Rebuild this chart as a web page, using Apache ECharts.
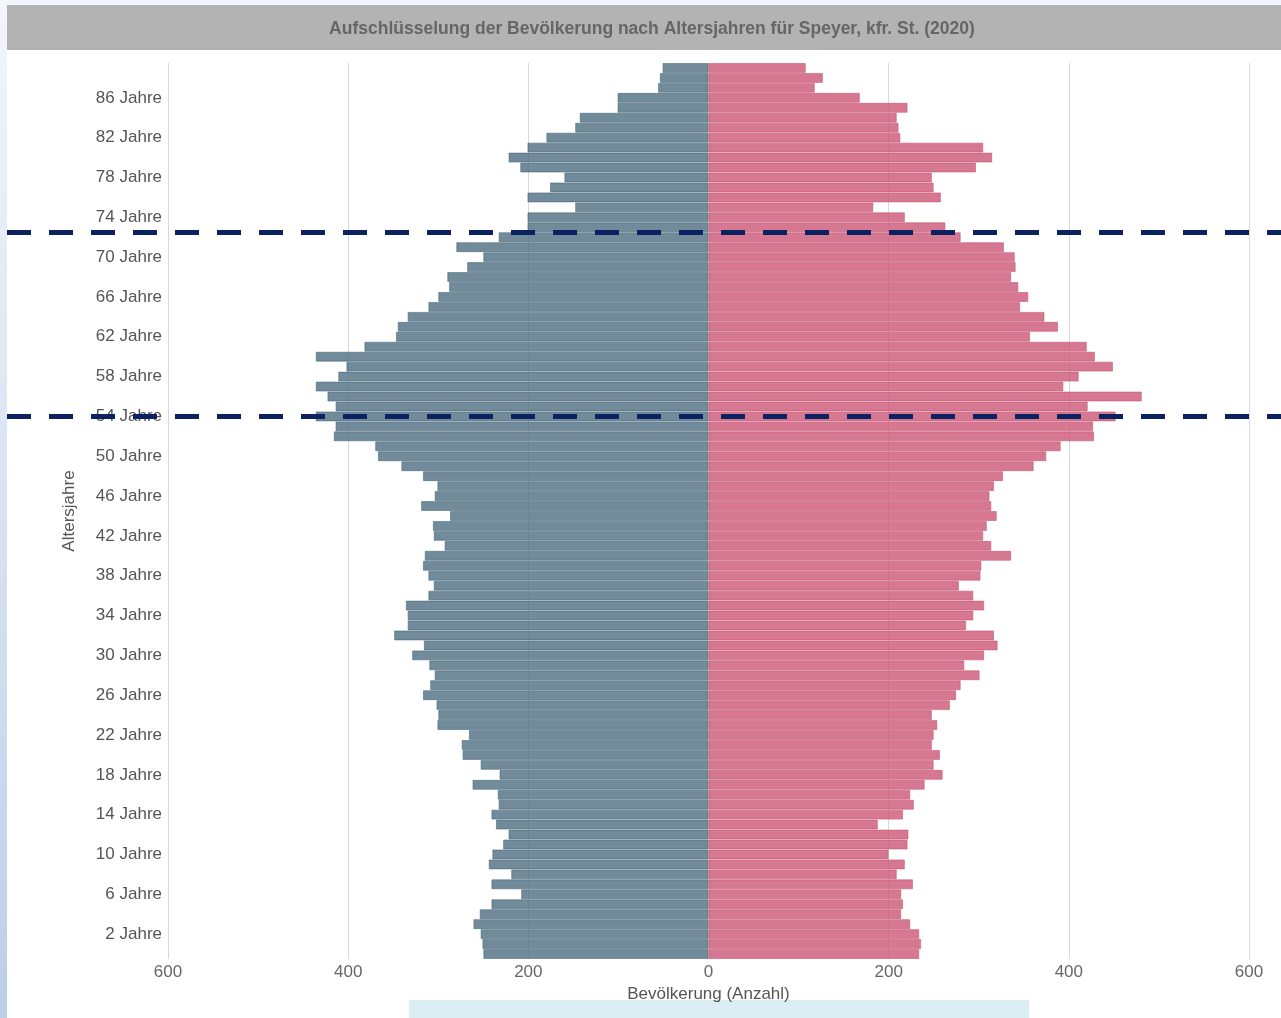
<!DOCTYPE html>
<html>
<head>
<meta charset="utf-8">
<script src="https://cdn.jsdelivr.net/npm/echarts@6/dist/echarts.min.js"></script>
<style>
  html, body { margin: 0; padding: 0; width: 1281px; height: 1018px; overflow: hidden;
    background: linear-gradient(to bottom, #f2f5fb 0%, #dbe5f2 45%, #bccfe9 100%); }
  #chart { position: absolute; left: 7px; top: 5px; width: 1274px; height: 1013px; background: #ffffff; }
</style>
</head>
<body>
<div id="chart"></div>
<script>
// Ages 0..89 (bottom to top)
const ages = Array.from({length: 90}, (_, i) => i);
const ageLabels = ages.map(a => a + ' Jahre');

// Males (left side), ages 0..89
const male = [250, 251, 253, 261, 254, 241, 208, 241, 219, 244,
              240, 228, 222, 236, 241, 233, 234, 262, 232, 253,
              273, 274, 266, 301, 300, 302, 317, 309, 304, 310,
              329, 316, 349, 334, 334, 336, 311, 305, 311, 317,
              315, 293, 305, 306, 287, 319, 304, 301, 317, 341,
              367, 370, 416, 414, 436, 414, 423, 436, 411, 402,
              436, 382, 347, 345, 334, 311, 300, 288, 290, 268,
              250, 280, 233, 201, 201, 148, 201, 176, 160, 209,
              222, 201, 180, 148, 143, 101, 101, 56, 54, 51];

// Females (right side), ages 0..89
const female = [234, 236, 234, 224, 214, 216, 214, 227, 209, 218,
                200, 221, 222, 188, 216, 228, 224, 240, 260, 250,
                257, 248, 250, 254, 248, 268, 275, 280, 301, 284,
                306, 321, 317, 286, 294, 306, 294, 278, 302, 303,
                336, 314, 305, 309, 320, 314, 312, 317, 327, 361,
                375, 391, 428, 427, 452, 421, 481, 394, 411, 449,
                429, 420, 357, 388, 373, 346, 355, 344, 336, 341,
                340, 328, 280, 263, 218, 183, 258, 250, 248, 297,
                315, 305, 213, 211, 209, 221, 168, 118, 127, 108];

// Reference lines (age positions)
const markAges = [72.5, 54];

const xTicks = [-600, -400, -200, 0, 200, 400, 600];

const FONT = '"Liberation Sans", Arial, sans-serif';

const chart = echarts.init(document.getElementById('chart'), null, {renderer: 'canvas'});

chart.setOption({
  animation: false,
  backgroundColor: '#ffffff',
  title: {
    text: 'Aufschlüsselung der Bevölkerung nach Altersjahren für Speyer, kfr. St. (2020)',
    left: 640,
    textAlign: 'center',
    top: 10,
    textStyle: { fontFamily: FONT, fontSize: 17.5, fontWeight: 'bold', color: '#666666' }
  },
  graphic: [
    { type: 'rect', left: 0, top: 0, z: -10, shape: { width: 1274, height: 45 }, style: { fill: '#b3b3b3' } },
    { type: 'rect', left: 402, top: 995, z: -10, shape: { width: 620, height: 18 }, style: { fill: '#daeef3' } }
  ],
  grid: [
    { left: 161, right: 32, top: 58, bottom: 59, containLabel: false },
    { left: 0, right: 0, top: 58, bottom: 59, containLabel: false }
  ],
  xAxis: [
    {
      type: 'value', gridIndex: 0,
      min: xTicks[0], max: xTicks[xTicks.length - 1], interval: 200,
      axisLine: { show: false }, axisTick: { show: false },
      splitLine: { show: true, lineStyle: { color: '#d8d8d8', width: 1 } },
      axisLabel: { formatter: v => String(Math.abs(v)), fontFamily: FONT, fontSize: 17, color: '#666666', margin: 5 },
      name: 'Bevölkerung (Anzahl)', nameLocation: 'middle', nameGap: 25,
      nameTextStyle: { fontFamily: FONT, fontSize: 17, color: '#555555' }
    },
    { type: 'value', gridIndex: 1, min: 0, max: 1, show: false }
  ],
  yAxis: [
    {
      type: 'category', gridIndex: 0, data: ageLabels,
      axisLine: { show: false }, axisTick: { show: false },
      splitLine: { show: false },
      axisLabel: { interval: (idx) => idx % 4 === 2, fontFamily: FONT, fontSize: 17, color: '#555555', margin: 6 },
      name: 'Altersjahre', nameLocation: 'middle', nameRotate: 90, nameGap: 90,
      nameTextStyle: { fontFamily: FONT, fontSize: 17, color: '#555555' }
    },
    { type: 'value', gridIndex: 1, min: -0.5, max: 89.5, show: false }
  ],
  series: [
    {
      name: 'Männlich', type: 'bar', stack: 'pop', xAxisIndex: 0, yAxisIndex: 0,
      barCategoryGap: '0%',
      data: male.map(v => -v),
      itemStyle: { color: 'rgba(86,117,135,0.84)', borderColor: 'rgba(70,100,118,0.55)', borderWidth: 1 }
    },
    {
      name: 'Weiblich', type: 'bar', stack: 'pop', xAxisIndex: 0, yAxisIndex: 0,
      barCategoryGap: '0%',
      data: female,
      itemStyle: { color: 'rgba(206,94,124,0.84)', borderColor: 'rgba(196,80,112,0.55)', borderWidth: 1 }
    },
    {
      name: 'lines', type: 'line', xAxisIndex: 1, yAxisIndex: 1, data: [],
      silent: true,
      markLine: {
        silent: true, symbol: 'none', animation: false,
        label: { show: false },
        lineStyle: { type: [24, 18], width: 5, color: '#0b2162', opacity: 1 },
        data: markAges.map(a => ({ yAxis: a }))
      }
    }
  ]
});
</script>
</body>
</html>
